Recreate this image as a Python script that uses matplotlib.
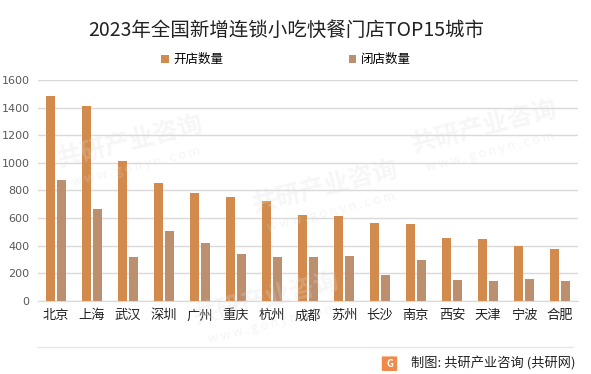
import numpy as np
import matplotlib.pyplot as plt
from matplotlib.patches import FancyBboxPatch

plt.rcParams['font.family'] = ['Noto Sans CJK SC', 'DejaVu Sans']

cities = ['北京', '上海', '武汉', '深圳', '广州', '重庆', '杭州', '成都',
          '苏州', '长沙', '南京', '西安', '天津', '宁波', '合肥']
opened = [1485, 1408, 1010, 852, 780, 751, 722, 621, 614, 563, 556, 455, 448, 397, 375]
closed = [873, 664, 318, 505, 421, 339, 318, 318, 325, 188, 296, 152, 144, 159, 144]
labels = ['开店数量', '闭店数量']
yticks = [0, 200, 400, 600, 800, 1000, 1200, 1400, 1600]

c_open = '#D38B4D'
c_close = '#BC8F6F'

fig = plt.figure(figsize=(5.91, 3.74), dpi=100)

ax = fig.add_axes([0.0643, 0.1952, 0.9137, 0.591])
ax.patch.set_alpha(0)
x = np.arange(len(cities))
w = 0.24
ax.bar(x - 0.147, opened, width=w, color=c_open, label=labels[0], zorder=3)
ax.bar(x + 0.147, closed, width=w, color=c_close, label=labels[1], zorder=3)

ax.set_xlim(-0.5, len(cities) - 0.5)
ax.set_ylim(0, 1600)
ax.set_yticks(yticks)
ax.set_yticklabels([str(v) for v in yticks], fontsize=8, color='#595959', family='DejaVu Sans')
ax.set_xticks(x)
ax.set_xticklabels(cities, fontsize=9.5, color='#222222')
ax.tick_params(length=0)
ax.tick_params(axis='y', pad=6)
ax.tick_params(axis='x', pad=6)
ax.grid(axis='y', color='#d9d9d9', linewidth=1, zorder=0)
for s in ['top', 'right', 'left']:
    ax.spines[s].set_visible(False)
ax.spines['bottom'].set_color('#d9d9d9')

# faint watermark
for (wx, wy) in [(0.22, 0.62), (0.55, 0.5), (0.45, 0.2), (0.82, 0.66)]:
    fig.text(wx, wy, '共研产业咨询', fontsize=18, fontweight='bold', color='#dddddd', alpha=0.25,
             rotation=14, ha='center', va='center', zorder=5)
    fig.text(wx + 0.01, wy - 0.065, 'w w w . g o n y n . c o m', fontsize=9, color='#dddddd', alpha=0.3,
             rotation=14, ha='center', va='center', zorder=5)

fig.text(0.484, 0.918, '2023年全国新增连锁小吃快餐门店TOP15城市', fontsize=14,
         ha='center', va='center', color='#222222', fontweight='light')
fig.legend(loc='center', bbox_to_anchor=(0.484, 0.84), ncol=2, frameon=False,
           fontsize=9, handlelength=0.6, handleheight=0.6, handletextpad=0.4,
           columnspacing=10)

# bottom separator and source
fig.add_artist(plt.Line2D([0.065, 0.97], [0.072, 0.072], color='#e6e6e6', linewidth=1))
logo = FancyBboxPatch((0.648, 0.01), 0.022, 0.035, boxstyle='round,pad=0.002',
                      transform=fig.transFigure, facecolor='#F08A4B', edgecolor='none')
fig.add_artist(logo)
fig.text(0.659, 0.028, 'G', fontsize=7, fontweight='bold', color='white', ha='center', va='center')
fig.text(0.973, 0.028, '制图: 共研产业咨询 (共研网)', fontsize=9.5, ha='right', va='center', color='#222222')

fig.savefig('out.png', dpi=100)
